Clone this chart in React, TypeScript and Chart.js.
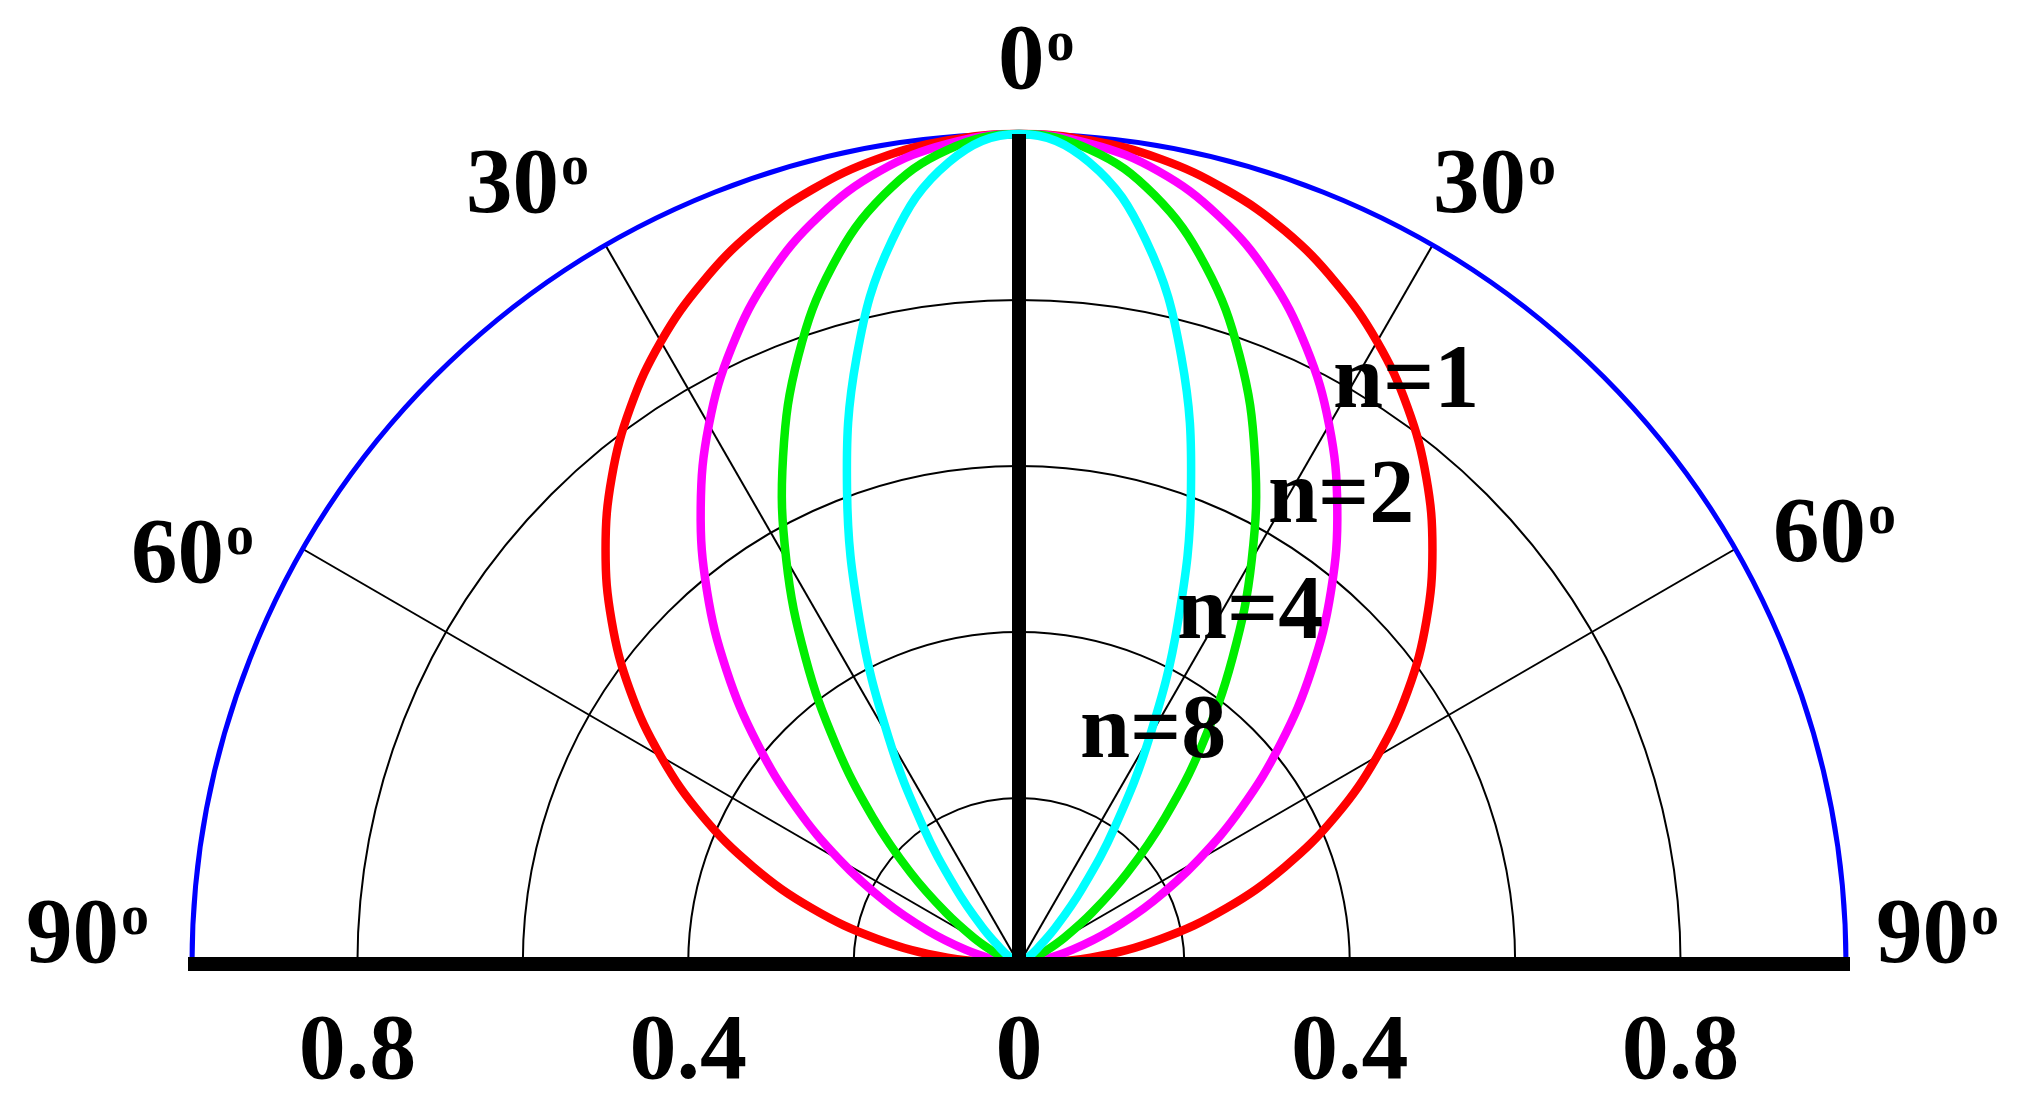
import React, { useEffect, useRef } from "react";
import { Chart, registerables } from "chart.js";

Chart.register(...registerables);

// ---------- data ----------
const ANGLES_DEG = [0, 5, 10, 15, 20, 25, 30, 35, 40, 45, 50, 55, 60, 65, 70, 75, 80, 85, 90];
const R_N1 = [1.0, 0.996, 0.985, 0.966, 0.94, 0.906, 0.866, 0.819, 0.766, 0.707, 0.643, 0.574, 0.5, 0.423, 0.342, 0.259, 0.174, 0.087, 0.0];
const R_N2 = [1.0, 0.992, 0.97, 0.933, 0.883, 0.821, 0.75, 0.671, 0.587, 0.5, 0.413, 0.329, 0.25, 0.179, 0.117, 0.067, 0.03, 0.008, 0.0];
const R_N4 = [1.0, 0.985, 0.941, 0.871, 0.78, 0.675, 0.563, 0.45, 0.344, 0.25, 0.171, 0.108, 0.063, 0.032, 0.014, 0.005, 0.001, 0.0, 0.0];
const R_N8 = [1.0, 0.97, 0.885, 0.758, 0.608, 0.455, 0.316, 0.203, 0.119, 0.063, 0.029, 0.012, 0.004, 0.001, 0.0, 0.0, 0.0, 0.0, 0.0];
const SERIES_LABELS = ["n=1", "n=2", "n=4", "n=8"];
const SERIES_COLORS = ["#ff0000", "#ff00ff", "#00ee00", "#00ffff"];

const GRID_RADII = [0.2, 0.4, 0.6, 0.8];
const OUTER_RADIUS = 1.0;
const SPOKE_ANGLES = [-60, -30, 30, 60];
const TICK_VALUES = [-0.8, -0.4, 0, 0.4, 0.8];
const TICK_LABELS = ["0.8", "0.4", "0", "0.4", "0.8"];
const ANGLE_LABELS = ["0", "30", "30", "60", "60", "90", "90"];

// ---------- layout ----------
const W = 2025;
const H = 1111;
const CX = 1019;
const CY = 964;
const RX = 827;
const RY = 830;
const FONT = '"Liberation Serif", "Times New Roman", serif';
// text positions (left x, baseline y) for angle labels, in canvas pixels
const ANGLE_LABEL_POS: [number, number][] = [
  [998, 88],
  [466, 212],
  [1433, 212],
  [131, 582],
  [1773, 561],
  [26, 962],
  [1876, 962],
];
const SERIES_LABEL_POS: [number, number][] = [
  [1333, 407],
  [1268, 522],
  [1177, 638],
  [1080, 757],
];
const TICK_BASELINE = 1078;

function toCurve(radii: number[]) {
  const pts: { x: number; y: number }[] = [];
  for (let i = ANGLES_DEG.length - 1; i >= 0; i--) {
    const t = (-ANGLES_DEG[i] * Math.PI) / 180;
    pts.push({ x: radii[i] * Math.sin(t), y: radii[i] * Math.cos(t) });
  }
  for (let i = 1; i < ANGLES_DEG.length; i++) {
    const t = (ANGLES_DEG[i] * Math.PI) / 180;
    pts.push({ x: radii[i] * Math.sin(t), y: radii[i] * Math.cos(t) });
  }
  return pts;
}

const polarPlugin = {
  id: "polarDecor",
  beforeDatasetsDraw(chart: any) {
    const ctx = chart.ctx as CanvasRenderingContext2D;
    const xs = chart.scales.x;
    const ys = chart.scales.y;
    const cx = xs.getPixelForValue(0);
    const cy = ys.getPixelForValue(0);
    const rx = xs.getPixelForValue(1) - cx;
    const ry = cy - ys.getPixelForValue(1);
    ctx.save();
    // grid circles
    ctx.strokeStyle = "#000";
    ctx.lineWidth = 2;
    for (const r of GRID_RADII) {
      ctx.beginPath();
      ctx.ellipse(cx, cy, rx * r, ry * r, 0, Math.PI, 2 * Math.PI);
      ctx.stroke();
    }
    // spokes
    ctx.lineWidth = 2;
    for (const a of SPOKE_ANGLES) {
      const t = (a * Math.PI) / 180;
      ctx.beginPath();
      ctx.moveTo(cx, cy);
      ctx.lineTo(xs.getPixelForValue(OUTER_RADIUS * Math.sin(t)), ys.getPixelForValue(OUTER_RADIUS * Math.cos(t)));
      ctx.stroke();
    }
    // outer blue circle
    ctx.strokeStyle = "#0000ff";
    ctx.lineWidth = 5;
    ctx.beginPath();
    ctx.ellipse(cx, cy, rx * OUTER_RADIUS, ry * OUTER_RADIUS, 0, Math.PI, 2 * Math.PI);
    ctx.stroke();
    ctx.restore();
  },
  afterDatasetsDraw(chart: any) {
    const ctx = chart.ctx as CanvasRenderingContext2D;
    const xs = chart.scales.x;
    const ys = chart.scales.y;
    const cx = xs.getPixelForValue(0);
    const cy = ys.getPixelForValue(0);
    ctx.save();
    ctx.strokeStyle = "#000";
    ctx.lineCap = "butt";
    // vertical axis
    ctx.lineWidth = 14;
    ctx.beginPath();
    ctx.moveTo(cx, cy);
    ctx.lineTo(cx, ys.getPixelForValue(OUTER_RADIUS));
    ctx.stroke();
    // baseline
    ctx.beginPath();
    ctx.moveTo(xs.getPixelForValue(-OUTER_RADIUS) - 4, cy);
    ctx.lineTo(xs.getPixelForValue(OUTER_RADIUS) + 4, cy);
    ctx.stroke();

    ctx.fillStyle = "#000";
    ctx.textBaseline = "alphabetic";
    // angle labels with superscript "o"
    ANGLE_LABELS.forEach((txt, i) => {
      const [x, y] = ANGLE_LABEL_POS[i];
      ctx.font = `bold 93px ${FONT}`;
      ctx.textAlign = "left";
      ctx.fillText(txt, x, y);
      const w = ctx.measureText(txt).width;
      ctx.font = `bold 56px ${FONT}`;
      ctx.fillText("o", x + w + 2, y - 28);
    });
    // tick labels
    ctx.font = `bold 94px ${FONT}`;
    ctx.textAlign = "center";
    TICK_VALUES.forEach((v, i) => {
      ctx.fillText(TICK_LABELS[i], xs.getPixelForValue(v), TICK_BASELINE);
    });
    // series labels
    ctx.font = `bold 90px ${FONT}`;
    ctx.textAlign = "left";
    SERIES_LABELS.forEach((s, i) => {
      const [x, y] = SERIES_LABEL_POS[i];
      ctx.fillText(s, x, y);
    });
    ctx.restore();
  },
};

export default function App() {
  const ref = useRef<HTMLCanvasElement | null>(null);
  useEffect(() => {
    if (!ref.current) return;
    const series = [R_N1, R_N2, R_N4, R_N8];
    const chart = new Chart(ref.current, {
      type: "scatter",
      data: {
        datasets: series.map((r, i) => ({
          label: SERIES_LABELS[i],
          data: toCurve(r),
          showLine: true,
          borderColor: SERIES_COLORS[i],
          backgroundColor: SERIES_COLORS[i],
          borderWidth: 8.5,
          pointRadius: 0,
          tension: 0.4,
          fill: false,
          order: series.length - i,
        })),
      },
      options: {
        responsive: false,
        animation: false,
        maintainAspectRatio: false,
        layout: { padding: 0 },
        plugins: { legend: { display: false }, tooltip: { enabled: false } },
        scales: {
          x: { type: "linear", display: false, min: -CX / RX, max: (W - CX) / RX },
          y: { type: "linear", display: false, min: -(H - CY) / RY, max: CY / RY },
        },
      },
      plugins: [polarPlugin],
    });
    return () => chart.destroy();
  }, []);
  return (
    <div style={{ position: "fixed", left: 0, top: 0, width: W, height: H, background: "#fff" }}>
      <canvas ref={ref} width={W} height={H} style={{ display: "block", width: W, height: H }} />
    </div>
  );
}
